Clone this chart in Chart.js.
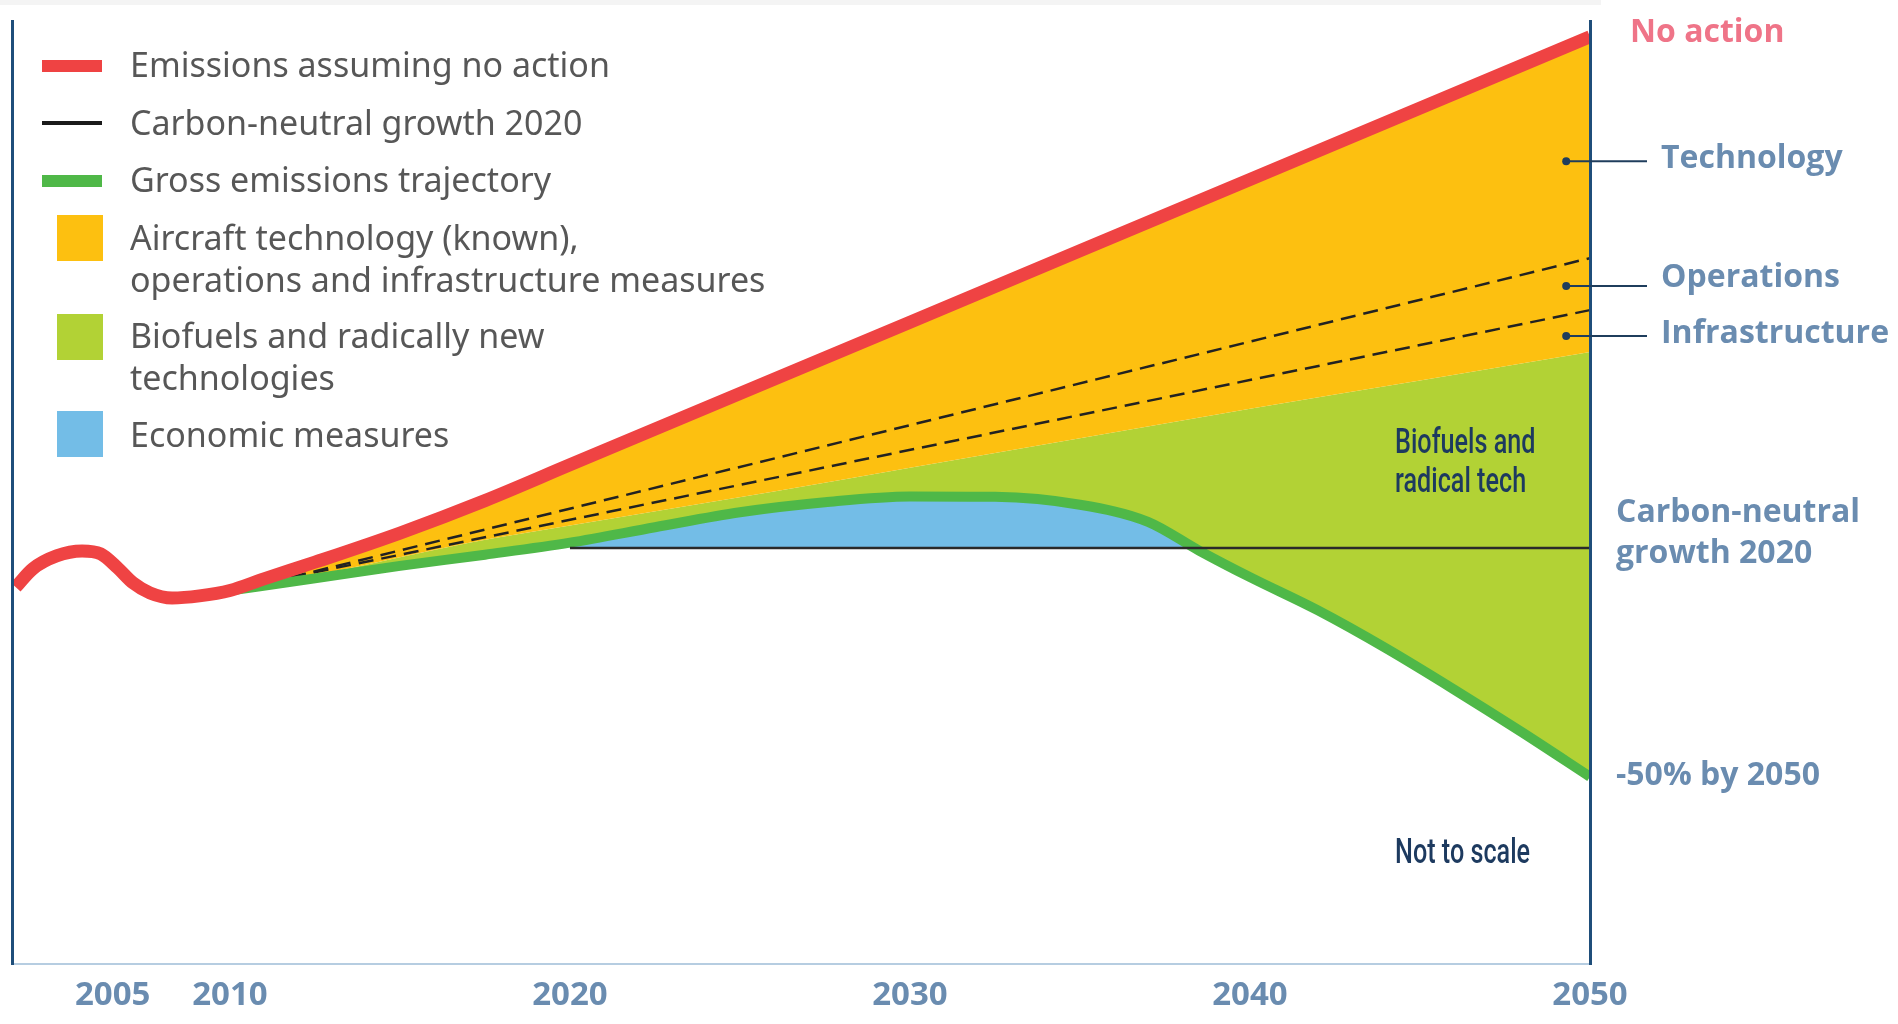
<!DOCTYPE html>
<html>
<head>
<meta charset="utf-8">
<title>Aviation emissions roadmap</title>
<script src="https://cdn.jsdelivr.net/npm/chart.js@4.4.1/dist/chart.umd.min.js"></script>
<style>
  html, body { margin: 0; padding: 0; background: #fff; }
  #wrap { width: 1898px; height: 1024px; position: relative; }
</style>
</head>
<body>
<div id="wrap"><canvas id="roadmap"></canvas></div>
<script>
// x axis labels; the history part before 2010 is compressed (not to scale)
const tickPositions = [2006.55, 2010, 2020, 2030, 2040, 2050];
const tickLabels = ['2005', '2010', '2020', '2030', '2040', '2050'];

// emissions index: history dip then the no-action growth path
const noActionYears = [2003.7, 2004.2, 2004.9, 2005.65, 2006.2, 2006.7, 2007.15, 2007.65, 2008.3, 2009.1, 2010, 2011, 2012.5, 2015, 2017.5, 2020, 2030, 2040, 2050];
const noActionValues = [90.6, 95.0, 98.1, 99.3, 98.6, 95.2, 91.6, 89.2, 88.0, 88.5, 89.8, 92.6, 96.6, 103.6, 111.4, 120.0, 154.3, 188.6, 222.9];

// gross emissions trajectory
const grossYears = [2010, 2012.5, 2015, 2017.5, 2020, 2022.5, 2025, 2027.5, 2030, 2032.5, 2035, 2037, 2038.5, 2040, 2042, 2044, 2046, 2048, 2050];
const grossValues = [89.8, 92.7, 95.7, 98.4, 101.3, 105.0, 108.6, 111.0, 112.4, 112.3, 110.4, 106.3, 99.4, 93.0, 85.0, 75.9, 66.0, 55.7, 45.0];

// top edge of the biofuels wedge (bottom of known technology/ops/infra)
const biofuelYears = [2010, 2013, 2017, 2020, 2026, 2030, 2035, 2040, 2045, 2050];
const biofuelValues = [89.8, 94.3, 101.2, 105.4, 113.6, 119.3, 126.4, 133.5, 140.3, 147.1];

// dashed splits between technology / operations / infrastructure
const splitYears = [2011.8, 2050];
const techOpsValues = [93.0, 169.7];
const opsInfraValues = [93.0, 157.2];

// carbon-neutral growth from 2020
const cngYears = [2020, 2050];
const cngValues = [100, 100];

// right-hand callouts and the level each one points at
const calloutLabels = ['Technology', 'Operations', 'Infrastructure'];
const calloutLevels = [193, 163, 151];
const calloutYear = 2049.3;

const RED = '#ef4343';
const YELLOW = '#fdc010';
const LIME = '#b2d235';
const GREEN = '#4fb848';
const BLUE = '#73bde7';
const NAVY = '#1f4e7a';
const LABEL_BLUE = '#6a8cb0';

const pts = (xs, ys) => xs.map((x, i) => ({x: x, y: ys[i]}));

function squeezed(ctx, text, x, y, k) {
  ctx.save();
  ctx.translate(x, y);
  ctx.scale(k, 1);
  ctx.fillText(text, 0, 0);
  ctx.restore();
}

const decorations = {
  id: 'decorations',
  beforeDraw(chart) {
    const ctx = chart.ctx;
    ctx.save();
    ctx.fillStyle = '#f4f4f4';
    ctx.fillRect(0, 0, 1601, 5);
    ctx.restore();
  },
  afterDraw(chart) {
    const {ctx, chartArea: area, scales: {x, y}} = chart;
    ctx.save();

    // legend
    ctx.textBaseline = 'alphabetic';
    ctx.textAlign = 'left';
    const tx = 130;
    ctx.fillStyle = RED; ctx.fillRect(42, 60, 60, 12);
    ctx.fillStyle = '#1a1a1a'; ctx.fillRect(42, 121, 60, 4);
    ctx.fillStyle = GREEN; ctx.fillRect(42, 175, 60, 12);
    ctx.fillStyle = YELLOW; ctx.fillRect(57, 215, 46, 46);
    ctx.fillStyle = LIME; ctx.fillRect(57, 314, 46, 46);
    ctx.fillStyle = BLUE; ctx.fillRect(57, 411, 46, 46);
    ctx.font = '34px "Noto Sans"';
    ctx.fillStyle = '#575757';
    ctx.fillText('Emissions assuming no action', tx, 77);
    ctx.fillText('Carbon-neutral growth 2020', tx, 135);
    ctx.fillText('Gross emissions trajectory', tx, 192);
    ctx.fillText('Aircraft technology (known),', tx, 250);
    ctx.fillText('operations and infrastructure measures', tx, 292);
    ctx.fillText('Biofuels and radically new', tx, 348);
    ctx.fillText('technologies', tx, 390);
    ctx.fillText('Economic measures', tx, 447);

    // callout dots and leaders
    const lx = area.right + 57;
    ctx.strokeStyle = '#1f3d5c';
    ctx.fillStyle = '#1f3d5c';
    ctx.lineWidth = 2;
    calloutLevels.forEach((v) => {
      const px = x.getPixelForValue(calloutYear);
      const py = y.getPixelForValue(v);
      ctx.beginPath();
      ctx.moveTo(px, py);
      ctx.lineTo(lx, py);
      ctx.stroke();
      ctx.beginPath();
      ctx.arc(px, py, 4, 0, Math.PI * 2);
      ctx.fill();
    });

    // right-hand labels
    ctx.font = 'bold 32px "Open Sans"';
    ctx.fillStyle = '#ef7488';
    ctx.fillText('No action', area.right + 40, 42);
    ctx.fillStyle = LABEL_BLUE;
    const labelShift = [7, 1, 7];
    calloutLabels.forEach((t, i) => {
      ctx.fillText(t, lx + 14, y.getPixelForValue(calloutLevels[i]) + labelShift[i]);
    });
    const cngY = y.getPixelForValue(cngValues[1]);
    ctx.fillText('Carbon-neutral', area.right + 26, cngY - 26);
    ctx.fillText('growth 2020', area.right + 26, cngY + 15);
    const endY = y.getPixelForValue(grossValues[grossValues.length - 1]);
    ctx.fillText('-50% by 2050', area.right + 26, endY + 8);

    // notes inside the plot
    ctx.font = '500 35px Roboto';
    ctx.fillStyle = '#1d3a5f';
    squeezed(ctx, 'Biofuels and', 1395, 453, 0.72);
    squeezed(ctx, 'radical tech', 1395, 492, 0.72);
    squeezed(ctx, 'Not to scale', 1395, 863, 0.72);

    ctx.restore();
  }
};

new Chart(document.getElementById('roadmap'), {
  type: 'line',
  data: {
    datasets: [
      {
        label: 'Carbon-neutral growth 2020',
        data: pts(cngYears, cngValues),
        borderColor: '#2a2a2a',
        borderWidth: 2.5,
        fill: false
      },
      {
        label: 'Emissions assuming no action',
        data: pts(noActionYears, noActionValues),
        borderColor: RED,
        borderWidth: 13,
        cubicInterpolationMode: 'monotone',
        backgroundColor: YELLOW,
        fill: 5
      },
      {
        label: 'Gross emissions trajectory',
        data: pts(grossYears, grossValues),
        borderColor: GREEN,
        borderWidth: 10,
        cubicInterpolationMode: 'monotone',
        fill: {target: 0, above: BLUE, below: 'rgba(0,0,0,0)'}
      },
      {
        label: 'Technology / operations',
        data: pts(splitYears, techOpsValues),
        borderColor: '#222',
        borderWidth: 2.5,
        borderDash: [15, 8],
        fill: false
      },
      {
        label: 'Operations / infrastructure',
        data: pts(splitYears, opsInfraValues),
        borderColor: '#222',
        borderWidth: 2.5,
        borderDash: [15, 8],
        fill: false
      },
      {
        label: 'Biofuels and radically new technologies',
        data: pts(biofuelYears, biofuelValues),
        borderWidth: 0,
        borderColor: 'rgba(0,0,0,0)',
        backgroundColor: LIME,
        cubicInterpolationMode: 'monotone',
        fill: 2
      }
    ]
  },
  options: {
    responsive: true,
    maintainAspectRatio: false,
    animation: false,
    events: [],
    layout: {padding: {left: 12, right: 308, top: 21, bottom: 0}},
    elements: {point: {radius: 0}, line: {borderCapStyle: 'butt'}},
    scales: {
      x: {
        type: 'linear',
        min: 2003.59,
        max: 2050,
        grid: {display: false, drawTicks: false},
        border: {display: true, color: '#b6cde1', width: 2},
        afterBuildTicks: (scale) => { scale.ticks = tickPositions.map(v => ({value: v})); },
        afterFit: (scale) => { scale.height = 60; },
        ticks: {
          autoSkip: false,
          maxRotation: 0,
          padding: 12,
          color: LABEL_BLUE,
          font: {family: '"Open Sans"', size: 33, weight: 'bold'},
          callback: (value, index) => tickLabels[index]
        }
      },
      y: {
        position: 'left',
        min: 0,
        max: 226.7,
        ticks: {display: false},
        grid: {display: false, drawTicks: false},
        border: {display: true, color: NAVY, width: 3, z: 1}
      },
      y2: {
        position: 'right',
        min: 0,
        max: 226.7,
        ticks: {display: false},
        grid: {display: false, drawTicks: false},
        border: {display: true, color: NAVY, width: 3, z: 1}
      }
    },
    plugins: {
      legend: {display: false},
      tooltip: {enabled: false},
      filler: {drawTime: 'beforeDatasetsDraw'}
    }
  },
  plugins: [decorations]
});
</script>
</body>
</html>
